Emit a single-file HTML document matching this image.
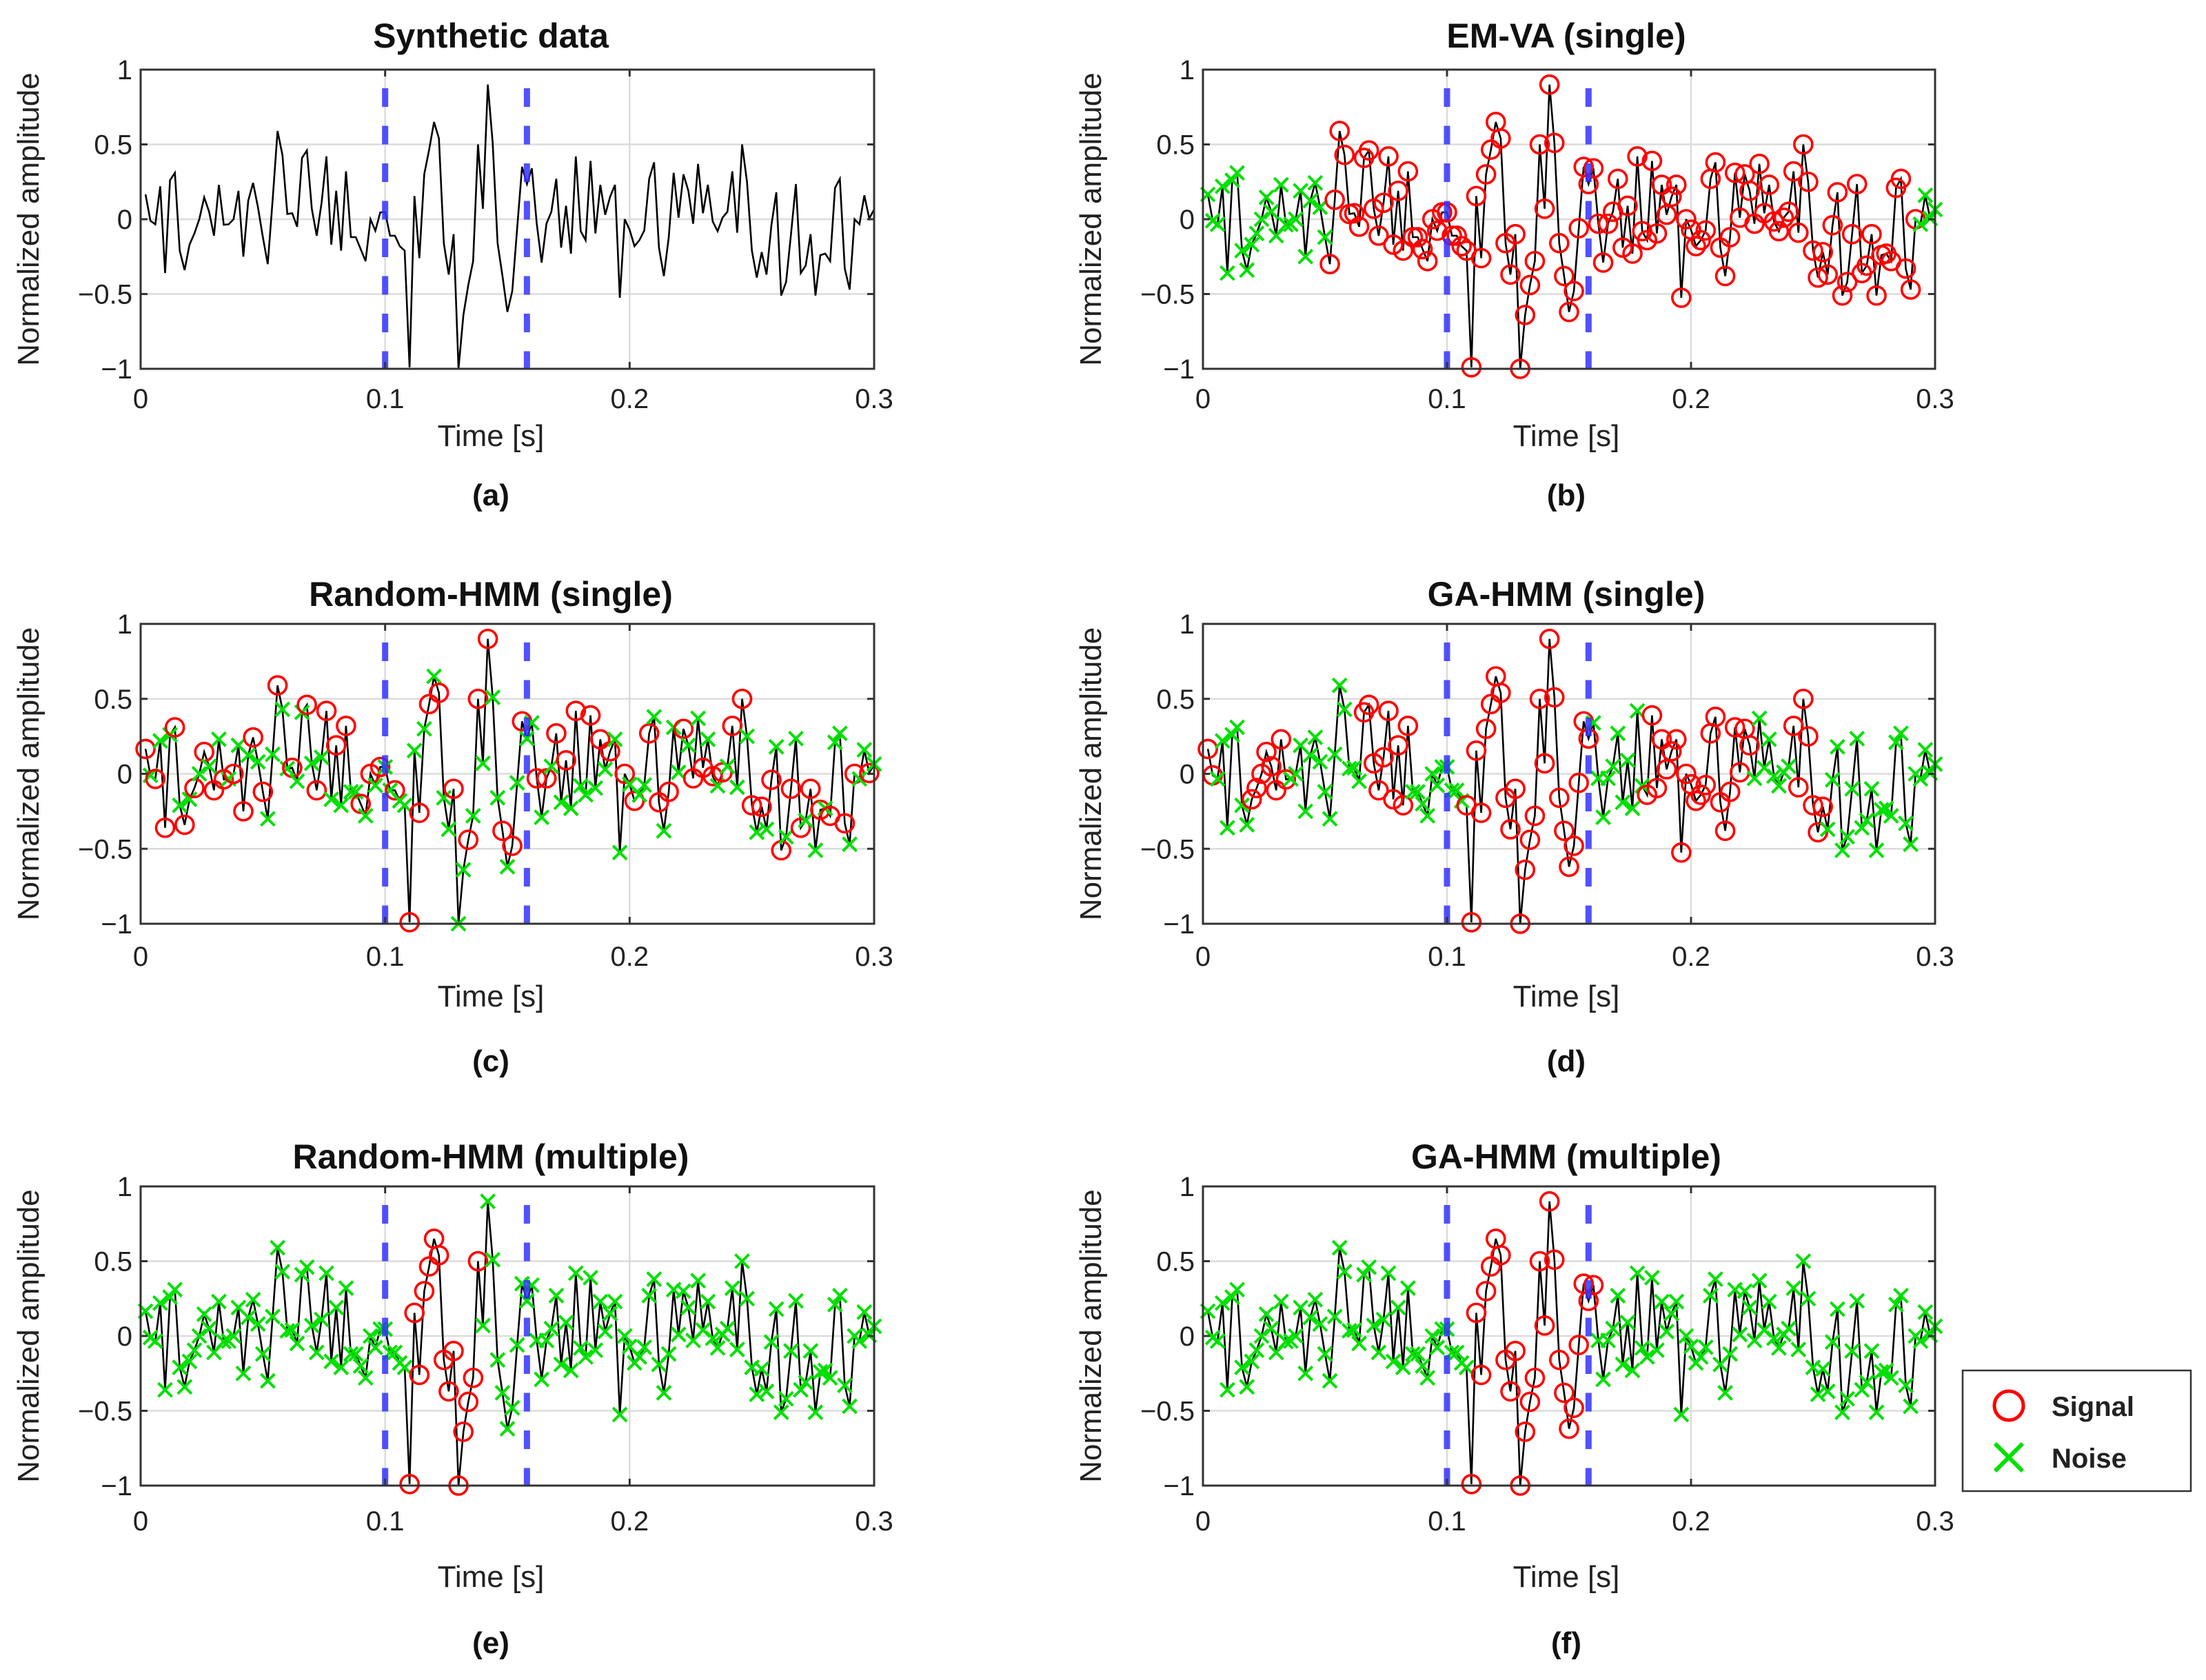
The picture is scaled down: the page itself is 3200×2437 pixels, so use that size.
<!DOCTYPE html>
<html><head><meta charset="utf-8"><title>HMM signal classification</title>
<style>
html,body{margin:0;padding:0;background:#fff;}
svg{display:block;font-family:"Liberation Sans",Arial,sans-serif;}
</style></head>
<body>
<svg id="fig" width="3200" height="2437" viewBox="0 0 3200 2437" xmlns="http://www.w3.org/2000/svg">
<g id="legend">
  <rect x="2847" y="1988" width="331" height="175" fill="#fff" stroke="#333" stroke-width="2.5"/>
  <circle cx="2914" cy="2039" r="21" fill="none" stroke="#ff0000" stroke-width="5"/>
  <text x="2976" y="2054" font-size="40" font-weight="bold" fill="#222">Signal</text>
  <path d="M2894 2094 L2934 2134 M2934 2094 L2894 2134" stroke="#00e000" stroke-width="6"/>
  <text x="2976" y="2129" font-size="40" font-weight="bold" fill="#222">Noise</text>
</g>
</svg>
<script>
// ---- data ----
const sampleStep = 0.002; // seconds between samples
const amplitude = [
0.166,-0.01,-0.034,0.22,-0.36,0.26,0.31,-0.21,-0.34,-0.17,
-0.095,0,0.146,0.05,-0.11,0.23,-0.037,-0.034,0,0.19,
-0.25,0.124,0.243,0.08,-0.12,-0.30,0.13,0.59,0.43,0.035,
0.04,-0.05,0.41,0.46,0.07,-0.11,0.11,0.42,-0.17,0.19,
-0.21,0.32,-0.12,-0.12,-0.2,-0.28,0,-0.077,0.046,0.046,
-0.11,-0.11,-0.18,-0.21,-0.99,0.155,-0.26,0.30,0.465,0.65,
0.54,-0.16,-0.37,-0.10,-1.0,-0.64,-0.44,-0.28,0.50,0.07,
0.90,0.51,-0.16,-0.38,-0.62,-0.48,-0.06,0.35,0.235,0.34,
-0.03,-0.29,-0.03,0.05,0.27,-0.19,0.09,-0.23,0.42,-0.08,
-0.14,0.39,-0.095,0.23,0.03,0.15,0.23,-0.525,0,-0.07,
-0.18,-0.14,-0.075,0.27,0.38,-0.19,-0.38,-0.12,0.31,0.01,
0.30,0.19,-0.03,0.37,0.04,0.23,-0.015,-0.08,0.01,0.05,
0.32,-0.09,0.50,0.25,-0.21,-0.39,-0.22,-0.37,-0.04,0.18,
-0.51,-0.42,-0.10,0.235,-0.36,-0.31,-0.10,-0.51,-0.24,-0.23,
-0.28,0.21,0.27,-0.33,-0.47,0,-0.034,0.16,0.005,0.065];
const eventBounds = [0.1, 0.158];
const xTicks = [0, 0.1, 0.2, 0.3];
const xTickLabels = ["0","0.1","0.2","0.3"];
const yTicks = [1, 0.5, 0, -0.5, -1];
const yTickLabels = ["1","0.5","0","\u22120.5","\u22121"];
const labelsEMVA = "N".repeat(25) + "S".repeat(121) + "N".repeat(4);
const labelsRandSingle = "SNSNSNSNSN"+"SNSNSNSNSN"+"SNSNSNNSNN"+"SNNSNSNSNS"+"NSNNSNSNSN"+"NSNNSNSNSN"+"SNNSNNSNSN"+"SNNSNSNSNN"+"SNSNSNSNSN"+"NSNSNSNNSN"+"SNNSNSNSNN"+"SNSNSNSNSN"+"SNSNSNSNSN"+"SNSNSNSNSN"+"SNNSNSNNSN";
const labelsGASingle = "SSNNNNNNNS"+"SSSSSSSNNN"+"NNNNNNNNNN"+"NNSSSSSSSS"+"SSNNNNNNNN"+"NNNSSSSSSS"+"SSSSSSSSSS"+"SSSSSSSSSN"+"NNNNNNNNNN"+"SSSSSSSSSS"+"SSSSSSSSSS"+"SSNNNNNNNN"+"SSSSSSSNNN"+"NNNNNNNNNN"+"NNNNNNNNNN";
const labelsRandMulti = "N".repeat(54) + "S".repeat(15) + "N".repeat(81);
const labelsGAMulti = "N".repeat(54) + "S".repeat(26) + "N".repeat(70);

// ---- layout ----
const rowOff = [
 {title:0, tick:0, time:0, cap:0},
 {title:6, tick:4, time:8, cap:16},
 {title:6, tick:8, time:35, cap:45}
];
const panels = [
 {id:"a", row:0, title:"Synthetic data", L:204, R:1268, T:101, B:535, cx:712, labels:null},
 {id:"b", row:0, title:"EM-VA (single)", L:1745, R:2807, T:101, B:535, cx:2272, labels:labelsEMVA},
 {id:"c", row:1, title:"Random-HMM (single)", L:204, R:1268, T:905, B:1340, cx:712, labels:labelsRandSingle},
 {id:"d", row:1, title:"GA-HMM (single)", L:1745, R:2807, T:905, B:1340, cx:2272, labels:labelsGASingle},
 {id:"e", row:2, title:"Random-HMM (multiple)", L:204, R:1268, T:1721, B:2155, cx:712, labels:labelsRandMulti},
 {id:"f", row:2, title:"GA-HMM (multiple)", L:1745, R:2807, T:1721, B:2155, cx:2272, labels:labelsGAMulti}
];
const NS = "http://www.w3.org/2000/svg";
const svg = document.getElementById("fig");
const legend = document.getElementById("legend");
function mk(tag, attrs, parent){
  const e = document.createElementNS(NS, tag);
  for (const k in attrs) e.setAttribute(k, attrs[k]);
  parent.appendChild(e);
  return e;
}
panels.forEach(p => {
  const o = rowOff[p.row];
  const g = mk("g", {}, svg);
  
  
  svg.insertBefore(g, legend);
  const xs = t => p.L + (t - 0) / 0.3 * (p.R - p.L);
  const ys = v => p.B - (v + 1) / 2 * (p.B - p.T);
  xTicks.forEach(t => {
    const l = mk("line", {x1:xs(t), x2:xs(t), y1:p.T, y2:p.B, stroke:"#dcdcdc", "stroke-width":2.5}, g);
    
    
  });
  yTicks.forEach(v => {
    const l = mk("line", {x1:p.L, x2:p.R, y1:ys(v), y2:ys(v), stroke:"#dcdcdc", "stroke-width":2.5}, g);
    
    
  });
  const pts = amplitude.map((v,i) => xs(sampleStep*(i+1)).toFixed(1) + "," + ys(v).toFixed(1)).join(" ");
  const pl = mk("polyline", {points:pts, fill:"none", stroke:"#000", "stroke-width":2.6, "stroke-linejoin":"miter"}, g);
  
  
  if (p.labels) {
    amplitude.forEach((v,i) => {
      const x = xs(sampleStep*(i+1)), y = ys(v);
      if (p.labels[i] === "S") {
        const c = mk("circle", {cx:x, cy:y, r:13, fill:"none", stroke:"#ff0000", "stroke-width":3.6}, g);
        
        
      } else {
        const m = mk("path", {d:`M${x-10} ${y-10} L${x+10} ${y+10} M${x+10} ${y-10} L${x-10} ${y+10}`, stroke:"#00e000", "stroke-width":4}, g);
        
        
      }
    });
  }
  eventBounds.forEach(t => {
    const l = mk("line", {x1:xs(t), x2:xs(t), y1:p.T, y2:p.B, stroke:"#3333ff", "stroke-opacity":0.85, "stroke-width":9, "stroke-dasharray":"27 27.5", "stroke-dashoffset":27.5}, g);
    
    
  });
  const box = mk("rect", {x:p.L, y:p.T, width:p.R-p.L, height:p.B-p.T, fill:"none", stroke:"#333", "stroke-width":3}, g);
  
  
  xTicks.forEach((t,k) => {
    mk("line", {x1:xs(t), x2:xs(t), y1:p.B, y2:p.B-10, stroke:"#333", "stroke-width":3}, g);
    mk("line", {x1:xs(t), x2:xs(t), y1:p.T, y2:p.T+10, stroke:"#333", "stroke-width":3}, g);
    const tx = mk("text", {x:xs(t), y:p.B+57+o.tick, "font-size":40, "text-anchor":"middle", fill:"#222"}, g);
    tx.textContent = xTickLabels[k];
    
    
  });
  yTicks.forEach((v,k) => {
    mk("line", {x1:p.L, x2:p.L+10, y1:ys(v), y2:ys(v), stroke:"#333", "stroke-width":3}, g);
    mk("line", {x1:p.R, x2:p.R-10, y1:ys(v), y2:ys(v), stroke:"#333", "stroke-width":3}, g);
    const tx = mk("text", {x:p.L-12, y:ys(v)+14, "font-size":40, "text-anchor":"end", fill:"#222"}, g);
    tx.textContent = yTickLabels[k];
    
    
  });
  const ti = mk("text", {x:p.cx, y:p.T-32+o.title, "font-size":50, "font-weight":"bold", "text-anchor":"middle", fill:"#111"}, g);
  ti.textContent = p.title;
  
  
  const xl = mk("text", {x:p.cx, y:p.B+112+o.time, "font-size":44, "text-anchor":"middle", fill:"#222"}, g);
  xl.textContent = "Time [s]";
  
  
  const cy = (p.T+p.B)/2, lx = p.L - 148;
  const yl = mk("text", {x:lx, y:cy, "font-size":44, "text-anchor":"middle", fill:"#222", transform:`rotate(-90 ${lx} ${cy})`}, g);
  yl.textContent = "Normalized amplitude";
  
  
  const cap = mk("text", {x:p.cx, y:p.B+198+o.cap, "font-size":44, "font-weight":"bold", "text-anchor":"middle", fill:"#111"}, g);
  cap.textContent = "(" + p.id + ")";
  
  
});
</script>
</body></html>
